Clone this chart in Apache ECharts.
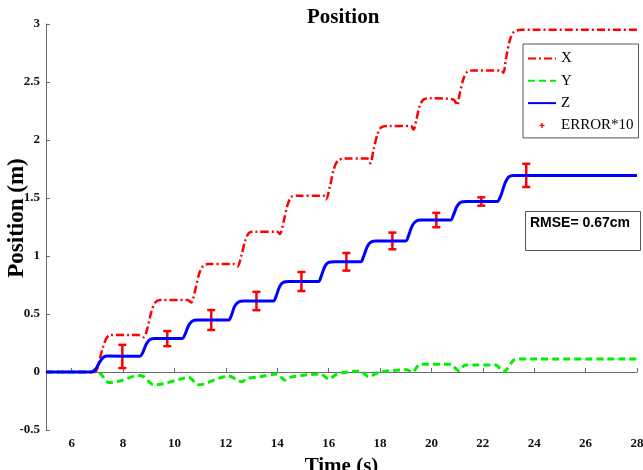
<!DOCTYPE html>
<html>
<head>
<meta charset="utf-8">
<script src="https://cdn.jsdelivr.net/npm/echarts@6/dist/echarts.min.js"></script>
<style>html,body{margin:0;padding:0;background:#fff}#c{width:643px;height:470px}</style>
</head>
<body>
<div id="c"></div>
<script>
// ---- data ----
var xTicks = [6, 8, 10, 12, 14, 16, 18, 20, 22, 24, 26, 28];

var seriesX = [[5,0],[6.9,0],[7.05,0.08],[7.2,0.2],[7.35,0.29],[7.5,0.32],[8.6,0.32],[8.8,0.30],[8.95,0.38],[9.1,0.52],[9.25,0.6],[9.45,0.62],
  [10.5,0.62],[10.65,0.60],[10.8,0.7],[10.95,0.84],[11.1,0.91],[11.3,0.93],[12.3,0.93],[12.45,0.91],[12.6,1.0],[12.75,1.13],[12.9,1.2],[13.1,1.21],
  [14.0,1.21],[14.1,1.19],[14.25,1.3],[14.4,1.44],[14.55,1.51],[14.8,1.52],[15.8,1.52],[15.9,1.49],[16.05,1.6],[16.2,1.75],[16.35,1.82],[16.6,1.84],
  [17.5,1.84],[17.62,1.8],[17.75,1.92],[17.9,2.05],[18.05,2.11],[18.3,2.12],[19.2,2.12],[19.3,2.09],[19.42,2.18],[19.55,2.3],[19.7,2.35],[19.95,2.36],
  [20.85,2.35],[21.0,2.3],[21.1,2.4],[21.25,2.53],[21.4,2.59],[21.65,2.6],[22.7,2.6],[22.8,2.58],[22.9,2.7],[23.05,2.86],[23.2,2.93],[23.5,2.95],[28,2.95]];

var seriesY = [[5,0],[6.75,0],[6.92,0.02],[7.18,-0.03],[7.44,-0.09],[7.83,-0.08],[8.6,-0.03],[8.8,-0.04],[9.19,-0.11],[9.45,-0.106],[10.35,-0.055],
  [10.55,-0.046],[10.94,-0.11],[12.1,-0.035],[12.63,-0.083],[12.82,-0.055],[13.34,-0.04],[13.99,-0.017],[14.3,-0.069],[14.45,-0.046],[15.68,-0.017],
  [16.0,-0.06],[16.33,-0.017],[17.23,0.009],[17.56,-0.04],[17.95,-0.003],[19.05,0.02],[19.24,-0.003],[19.57,0.066],[20.74,0.066],[21.06,0.011],
  [21.32,0.06],[22.49,0.06],[22.8,0.003],[23.2,0.103],[23.39,0.112],[28,0.112]];

var seriesZ = [[5,0],[6.8,0],[6.95,0.03],[7.1,0.09],[7.25,0.13],[7.4,0.138],[8.65,0.135],[8.75,0.16],[8.9,0.24],[9.05,0.28],[9.25,0.288],
  [10.3,0.288],[10.4,0.32],[10.55,0.4],[10.7,0.44],[10.9,0.448],[12.1,0.448],[12.2,0.48],[12.35,0.57],[12.5,0.605],[12.7,0.612],
  [13.85,0.612],[13.95,0.65],[14.1,0.74],[14.25,0.775],[14.45,0.78],[15.6,0.78],[15.7,0.82],[15.85,0.91],[16.0,0.945],[16.2,0.95],
  [17.25,0.95],[17.35,0.99],[17.5,1.08],[17.65,1.12],[17.85,1.13],[19.0,1.13],[19.1,1.17],[19.25,1.26],[19.4,1.3],[19.6,1.31],
  [20.75,1.31],[20.85,1.35],[21.0,1.43],[21.15,1.465],[21.35,1.47],[22.55,1.47],[22.7,1.52],[22.85,1.62],[23.0,1.68],[23.2,1.695],[28,1.695]];

var errTime   = [7.97, 9.72, 11.43, 13.19, 14.94, 16.69, 18.48, 20.19, 21.94, 23.69];
var errCenter = [0.134, 0.288, 0.448, 0.612, 0.78, 0.95, 1.13, 1.31, 1.47, 1.695];
var errHalf   = [0.10, 0.065, 0.086, 0.079, 0.082, 0.076, 0.072, 0.062, 0.036, 0.10];

var rmseText = 'RMSE= 0.67cm';

// ---- chart ----
var errData = errTime.map(function (t, i) { return [t, errCenter[i], errHalf[i]]; });
var serif = '"Liberation Serif","Times New Roman",serif';
var axisCol = '#6a6a6a';
var hideSym = {opacity: 0};

var chart = echarts.init(document.getElementById('c'), null, {renderer: 'canvas'});
chart.setOption({
  backgroundColor: '#fff',
  animation: false,
  title: {
    text: 'Position', left: 307, top: 7, padding: 0,
    textStyle: {fontFamily: serif, fontSize: 21, fontWeight: 'bold', color: '#000'}
  },
  grid: {left: 46, right: 6, top: 24, bottom: 40, outerBoundsMode: 'none', containLabel: false},
  legend: {
    orient: 'vertical', left: 523, top: 44,
    padding: [7, 5, 5, 4], itemGap: 7.3, itemWidth: 28, itemHeight: 14,
    borderColor: '#555', borderWidth: 1, backgroundColor: '#fff',
    textStyle: {fontFamily: serif, fontSize: 15, color: '#000'},
    data: [
      {name: 'X', itemStyle: hideSym},
      {name: 'Y', itemStyle: hideSym},
      {name: 'Z', itemStyle: hideSym},
      {name: 'ERROR*10', icon: 'path://M0,0M28,14M13.3,4.5H14.7V6.3H16.5V7.7H14.7V9.5H13.3V7.7H11.5V6.3H13.3Z', itemStyle: {color: '#ff0000'}}
    ]
  },
  xAxis: {
    type: 'value', min: 5, max: 28,
    name: 'Time (s)', nameLocation: 'middle', nameGap: 26, nameMoveOverlap: false,
    nameTextStyle: {fontFamily: serif, fontSize: 21, fontWeight: 'bold', color: '#000'},
    axisLine: {lineStyle: {color: axisCol, width: 1}},
    axisTick: {inside: true, length: 4, lineStyle: {color: axisCol}, customValues: xTicks},
    axisLabel: {customValues: xTicks, margin: 7, fontFamily: serif, fontSize: 13, fontWeight: 'bold', color: '#111'},
    splitLine: {show: false}
  },
  yAxis: {
    type: 'value', min: -0.5, max: 3, interval: 0.5,
    name: 'Position (m)', nameLocation: 'middle', nameGap: 17, nameMoveOverlap: false,
    nameTextStyle: {fontFamily: serif, fontSize: 23, fontWeight: 'bold', color: '#000', padding: [0, 0, 0, 18]},
    axisLine: {show: true, lineStyle: {color: axisCol, width: 1}},
    axisTick: {show: true, inside: true, length: 4, lineStyle: {color: axisCol}},
    axisLabel: {margin: 6, fontFamily: serif, fontSize: 13, fontWeight: 'bold', color: '#111'},
    splitLine: {show: false}
  },
  series: [
    {name: 'X', type: 'line', data: seriesX, symbol: 'none', smooth: 0.3,
     lineStyle: {color: '#ff0000', width: 2.5, type: [8, 3, 2, 3]}, itemStyle: {color: '#ff0000'}},
    {name: 'Y', type: 'line', data: seriesY, symbol: 'none', smooth: 0.3,
     lineStyle: {color: '#00f000', width: 3, type: [7, 4]}, itemStyle: {color: '#00f000'}},
    {name: 'Z', type: 'line', data: seriesZ, symbol: 'none', smooth: 0.3,
     lineStyle: {color: '#0000ff', width: 3}, itemStyle: {color: '#0000ff'}},
    {name: 'ERROR*10', type: 'custom', data: errData, itemStyle: {color: '#ff0000'},
     encode: {x: 0, y: 1},
     renderItem: function (params, api) {
       var t = api.value(0), c = api.value(1), h = api.value(2);
       var top = api.coord([t, c + h]);
       var bot = api.coord([t, c - h]);
       var w = 4;
       var st = {stroke: '#ff0000', lineWidth: 2.5};
       return {type: 'group', children: [
         {type: 'line', shape: {x1: top[0], y1: top[1], x2: bot[0], y2: bot[1]}, style: st},
         {type: 'line', shape: {x1: top[0] - w, y1: top[1], x2: top[0] + w, y2: top[1]}, style: st},
         {type: 'line', shape: {x1: bot[0] - w, y1: bot[1], x2: bot[0] + w, y2: bot[1]}, style: st}
       ]};
     }}
  ],
  graphic: [
    {type: 'rect', left: 525, top: 211, shape: {width: 115, height: 39}, style: {fill: '#fff', stroke: '#555', lineWidth: 1}, z: 100},
    {type: 'text', left: 530, top: 216, style: {text: rmseText, font: 'bold 14px "Liberation Sans", Arial, sans-serif', fill: '#000'}, z: 101}
  ]
});
</script>
</body>
</html>
